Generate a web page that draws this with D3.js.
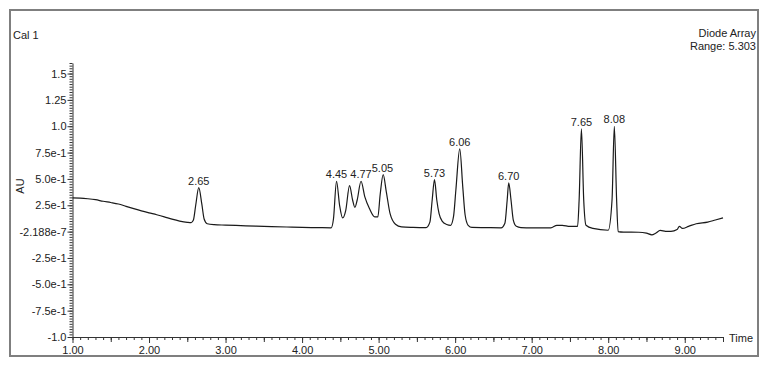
<!DOCTYPE html>
<html><head><meta charset="utf-8">
<script src="https://cdn.jsdelivr.net/npm/d3@7/dist/d3.min.js"></script>
<style>body{margin:0;background:#fff}svg{display:block}text{font-family:"Liberation Sans",Arial,sans-serif}</style>
</head><body>
<script>
// ---- data ----
const times = [1.00,1.10,1.20,1.30,1.40,1.50,1.60,1.70,1.80,1.90,2.00,2.10,2.20,2.30,2.40,2.50,2.55,2.58,2.61,2.65,2.69,2.72,2.76,2.85,3.00,3.20,3.40,3.60,3.80,4.00,4.20,4.38,4.41,4.45,4.49,4.53,4.57,4.62,4.66,4.69,4.72,4.77,4.82,4.88,4.95,4.99,5.02,5.06,5.10,5.15,5.22,5.30,5.45,5.62,5.67,5.70,5.73,5.76,5.79,5.83,5.89,5.94,5.98,6.01,6.06,6.10,6.13,6.17,6.22,6.40,6.60,6.65,6.68,6.70,6.73,6.76,6.80,6.86,7.00,7.25,7.33,7.40,7.50,7.60,7.62,7.65,7.68,7.71,7.80,8.00,8.05,8.08,8.11,8.13,8.20,8.40,8.50,8.57,8.62,8.68,8.75,8.82,8.90,8.93,8.97,9.05,9.15,9.30,9.40,9.50];
const absorb = [0.320,0.318,0.312,0.303,0.288,0.276,0.262,0.240,0.218,0.197,0.178,0.160,0.140,0.118,0.100,0.088,0.085,0.110,0.250,0.417,0.260,0.120,0.075,0.066,0.062,0.057,0.052,0.048,0.044,0.040,0.038,0.036,0.120,0.478,0.250,0.130,0.200,0.437,0.300,0.230,0.300,0.478,0.330,0.220,0.140,0.140,0.350,0.540,0.380,0.170,0.070,0.045,0.040,0.038,0.090,0.300,0.494,0.300,0.170,0.100,0.068,0.060,0.150,0.400,0.785,0.420,0.160,0.060,0.040,0.038,0.036,0.080,0.300,0.462,0.300,0.110,0.050,0.038,0.035,0.035,0.060,0.060,0.050,0.050,0.300,0.975,0.300,0.060,0.030,0.013,0.300,1.000,0.300,0.000,-0.005,-0.006,-0.015,-0.030,-0.015,0.012,0.003,0.002,0.020,0.050,0.030,0.050,0.075,0.090,0.110,0.130];
const peakTimes = [2.65,4.45,4.77,5.05,5.73,6.06,6.70,7.65,8.08];
const peakLabels = ["2.65","4.45","4.77","5.05","5.73","6.06","6.70","7.65","8.08"];
const peakHeights = [0.417,0.478,0.478,0.540,0.494,0.785,0.462,0.975,1.000];
const yTickValues = [1.5,1.25,1.0,0.75,0.5,0.25,0,-0.25,-0.5,-0.75,-1.0];
const yTickLabels = ["1.5","1.25","1.0","7.5e-1","5.0e-1","2.5e-1","-2.188e-7","-2.5e-1","-5.0e-1","-7.5e-1","-1.0"];
const xTickValues = [1,2,3,4,5,6,7,8,9];
const xTickLabels = ["1.00","2.00","3.00","4.00","5.00","6.00","7.00","8.00","9.00"];

const W = 768, H = 368;
const FONT = '"Liberation Sans",Arial,sans-serif';
const svg = d3.select("body").append("svg").attr("width", W).attr("height", H);

// frame
svg.append("rect").attr("x",10).attr("y",10).attr("width",748).attr("height",346)
  .attr("fill","#fff").attr("stroke","#7f7f7f").attr("stroke-width",2);

const x = d3.scaleLinear().domain([1, 9.5]).range([72.5, 723]);
const y = d3.scaleLinear().domain([-1, 1.6]).range([337, 63]);

// minor y ticks
const yMinor = d3.range(-1, 1.6001, 0.025).map(v => +v.toFixed(3));
svg.append("g").attr("transform","translate(72.5,0)")
  .call(d3.axisLeft(y).tickValues(yMinor).tickSize(3).tickFormat(""))
  .call(g => g.select(".domain").remove())
  .call(g => g.selectAll("line").attr("stroke","#333"));
// major y axis
const gy = svg.append("g").attr("transform","translate(72.5,0)")
  .call(d3.axisLeft(y).tickValues(yTickValues).tickSize(5).tickPadding(1)
    .tickFormat((d,i) => yTickLabels[i]).tickSizeOuter(0));
gy.selectAll("text").attr("font-size",11).attr("fill","#222").style("font-family",FONT);
gy.selectAll("line,path").attr("stroke","#333");

// minor x ticks
const xMinor = d3.range(1, 9.5001, 0.1).map(v => +v.toFixed(2));
svg.append("g").attr("transform","translate(0,337)")
  .call(d3.axisBottom(x).tickValues(xMinor).tickSize(3).tickFormat(""))
  .call(g => g.select(".domain").remove())
  .call(g => g.selectAll("line").attr("stroke","#333"));
const xMid = d3.range(1.5, 9.5001, 1);
svg.append("g").attr("transform","translate(0,337)")
  .call(d3.axisBottom(x).tickValues(xMid).tickSize(5).tickFormat(""))
  .call(g => g.select(".domain").remove())
  .call(g => g.selectAll("line").attr("stroke","#333"));
const gx = svg.append("g").attr("transform","translate(0,337)")
  .call(d3.axisBottom(x).tickValues(xTickValues).tickSize(6).tickPadding(3)
    .tickFormat((d,i) => xTickLabels[i]).tickSizeOuter(0));
gx.selectAll("text").attr("font-size",11).attr("fill","#222").style("font-family",FONT);
gx.selectAll("line,path").attr("stroke","#333");

// trace
const pts = times.map((t,i) => [t, absorb[i]]);
svg.append("path").datum(pts)
  .attr("fill","none").attr("stroke","#1a1a1a").attr("stroke-width",1.2)
  .attr("d", d3.line().x(d => x(d[0])).y(d => y(d[1])).curve(d3.curveMonotoneX));

// peak labels
svg.append("g").selectAll("text").data(peakTimes).join("text")
  .attr("x", d => x(d)).attr("y", (d,i) => y(peakHeights[i]) - 3)
  .attr("text-anchor","middle").attr("font-size",11).attr("fill","#222")
  .text((d,i) => peakLabels[i]);

// titles
svg.append("text").attr("x",13).attr("y",39).attr("font-size",11).attr("fill","#222").text("Cal 1");
svg.append("text").attr("x",756).attr("y",37).attr("text-anchor","end").attr("font-size",11).attr("fill","#222").text("Diode Array");
svg.append("text").attr("x",756).attr("y",50).attr("text-anchor","end").attr("font-size",11).attr("fill","#222").text("Range: 5.303");
svg.append("text").attr("transform","translate(24,186) rotate(-90)").attr("text-anchor","middle")
  .attr("font-size",11).attr("fill","#222").text("AU");
svg.append("text").attr("x",729).attr("y",342).attr("font-size",11).attr("fill","#222").text("Time");
</script>
</body></html>
